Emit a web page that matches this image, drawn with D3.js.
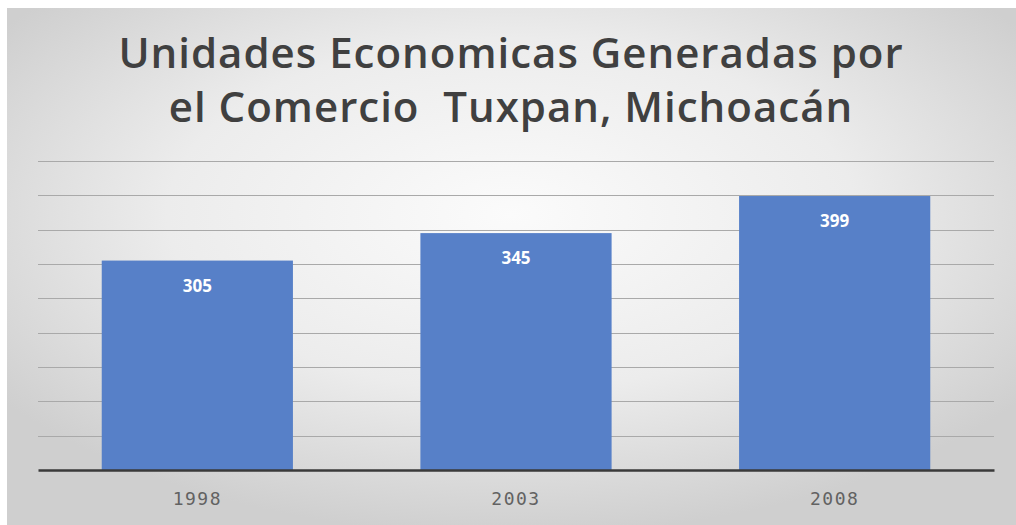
<!DOCTYPE html>
<html>
<head>
<meta charset="utf-8">
<script src="https://cdn.jsdelivr.net/npm/d3@7"></script>
<style>
  body { margin: 0; background: #fff; }
  svg { display: block; }
</style>
</head>
<body>
<div class="container"></div>
<script>
// data
var years = ["1998", "2003", "2008"];
var unidades = [305, 345, 399];
var yTicks = [0, 50, 100, 150, 200, 250, 300, 350, 400, 450];
var titleLines = ["Unidades Economicas Generadas por", "el Comercio  Tuxpan, Michoacán"];

var width = 1016, height = 525;
var margin = {top: 161, right: 22, bottom: 55, left: 38};

var svg = d3.select(".container")
    .append("svg")
    .attr("width", width)
    .attr("height", height);

// soft grey radial background
var defs = svg.append("defs");
var grad = defs.append("radialGradient")
    .attr("id", "bg")
    .attr("cx", "50%").attr("cy", "40%")
    .attr("r", "62%");
grad.append("stop").attr("offset", "0%").attr("stop-color", "#fbfbfb");
grad.append("stop").attr("offset", "55%").attr("stop-color", "#ececec");
grad.append("stop").attr("offset", "100%").attr("stop-color", "#cfcfcf");

svg.append("rect")
    .attr("x", 7).attr("y", 8)
    .attr("width", width - 7).attr("height", height - 8)
    .attr("fill", "url(#bg)");

var x = d3.scaleBand()
    .domain(years)
    .range([margin.left, width - margin.right])
    .paddingInner(0.4)
    .paddingOuter(0.2);

var y = d3.scaleLinear()
    .domain([0, 450])
    .range([height - margin.bottom, margin.top]);

// gridlines
svg.append("g")
    .selectAll("line")
    .data(yTicks.slice(1))
    .enter()
    .append("line")
    .attr("x1", margin.left)
    .attr("x2", width - margin.right)
    .attr("y1", function(d) { return Math.round(y(d)) + 0.5; })
    .attr("y2", function(d) { return Math.round(y(d)) + 0.5; })
    .attr("stroke", "#a9a9a9")
    .attr("stroke-width", 1);

// bars
svg.append("g")
    .selectAll("rect")
    .data(unidades)
    .enter()
    .append("rect")
    .attr("x", function(d, i) { return x(years[i]); })
    .attr("y", function(d) { return y(d); })
    .attr("width", x.bandwidth())
    .attr("height", function(d) { return y(0) - y(d); })
    .attr("fill", "#5780c8");

// value labels
svg.append("g")
    .selectAll("text")
    .data(unidades)
    .enter()
    .append("text")
    .attr("x", function(d, i) { return x(years[i]) + x.bandwidth() / 2; })
    .attr("y", function(d) { return y(d) + 31; })
    .attr("text-anchor", "middle")
    .attr("fill", "#ffffff")
    .style("font-family", "'Open Sans', sans-serif")
    .style("font-weight", "700")
    .style("font-size", "17px")
    .text(function(d) { return d; });

// x axis
var xAxis = svg.append("g")
    .attr("transform", "translate(0," + y(0) + ")")
    .call(d3.axisBottom(x).tickSize(0).tickPadding(22));
xAxis.select(".domain")
    .attr("stroke", "#3a3a3a")
    .attr("stroke-width", 2.5);
xAxis.selectAll("text")
    .attr("fill", "#626262")
    .style("font-family", "'DejaVu Sans Mono', monospace")
    .style("font-size", "18px")
    .style("letter-spacing", "1.5px");

// title
svg.append("g")
    .selectAll("text")
    .data(titleLines)
    .enter()
    .append("text")
    .attr("x", width / 2 + 3)
    .attr("y", function(d, i) { return 68 + i * 54; })
    .attr("text-anchor", "middle")
    .attr("fill", "#404040")
    .style("font-family", "'Open Sans', sans-serif")
    .style("font-weight", "600")
    .style("font-size", "42px")
    .style("letter-spacing", "1px")
    .style("white-space", "pre")
    .text(function(d) { return d; });
</script>
</body>
</html>
